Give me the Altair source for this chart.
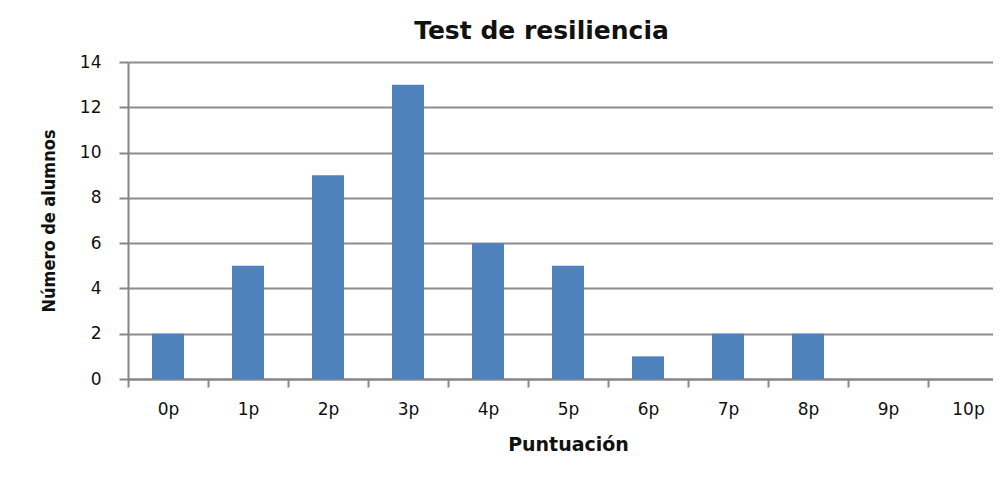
import altair as alt
import pandas as pd

categories = ["0p", "1p", "2p", "3p", "4p", "5p", "6p", "7p", "8p", "9p", "10p"]
counts = [2, 5, 9, 13, 6, 5, 1, 2, 2, 0, 0]
y_ticks = [0, 2, 4, 6, 8, 10, 12, 14]

df = pd.DataFrame({"Puntuación": categories, "Número de alumnos": counts})

chart = alt.Chart(df).mark_bar(color="#4F81BD", width=alt.RelativeBandSize(0.4)).encode(
    x=alt.X(
        "Puntuación:N",
        sort=categories,
        scale=alt.Scale(range=[0, 880], paddingInner=0, paddingOuter=0),
        axis=alt.Axis(
            title="Puntuación",
            labelAngle=0,
            tickBand="extent",
            tickSize=8,
            tickColor="#868686",
            domainColor="#868686",
            tickWidth=2,
            domainWidth=2,
            labelFont="DejaVu Sans",
            labelFontSize=17,
            labelColor="#111111",
            labelPadding=14,
            titleFont="DejaVu Sans",
            titleFontSize=19,
            titleFontWeight="bold",
            titleColor="#111111",
            titlePadding=18,
            titleX=440,
        ),
    ),
    y=alt.Y(
        "Número de alumnos:Q",
        scale=alt.Scale(domain=[0, 14], nice=False),
        axis=alt.Axis(
            title="Número de alumnos",
            values=y_ticks,
            tickSize=9,
            tickColor="#868686",
            domainColor="#868686",
            tickWidth=2,
            domainWidth=2,
            gridColor="#8C8C8C",
            gridWidth=2,
            labelFont="DejaVu Sans",
            labelFontSize=17,
            labelColor="#111111",
            labelPadding=18,
            titleFont="DejaVu Sans Condensed",
            titleFontSize=18,
            titleFontWeight="bold",
            titleColor="#111111",
            titlePadding=21,
        ),
    ),
).properties(
    width=865,
    height=317,
    title=alt.TitleParams(
        "Test de resiliencia",
        font="DejaVu Sans",
        fontSize=25,
        fontWeight="bold",
        color="#111111",
        anchor="middle",
        dx=-19,
        offset=9,
    ),
    autosize=alt.AutoSizeParams(type="none"),
    padding={"left": 120, "top": 54, "right": 0, "bottom": 96},
).configure_view(stroke=None)

chart.save("out.html", embed_options={"renderer": "svg", "actions": False})
